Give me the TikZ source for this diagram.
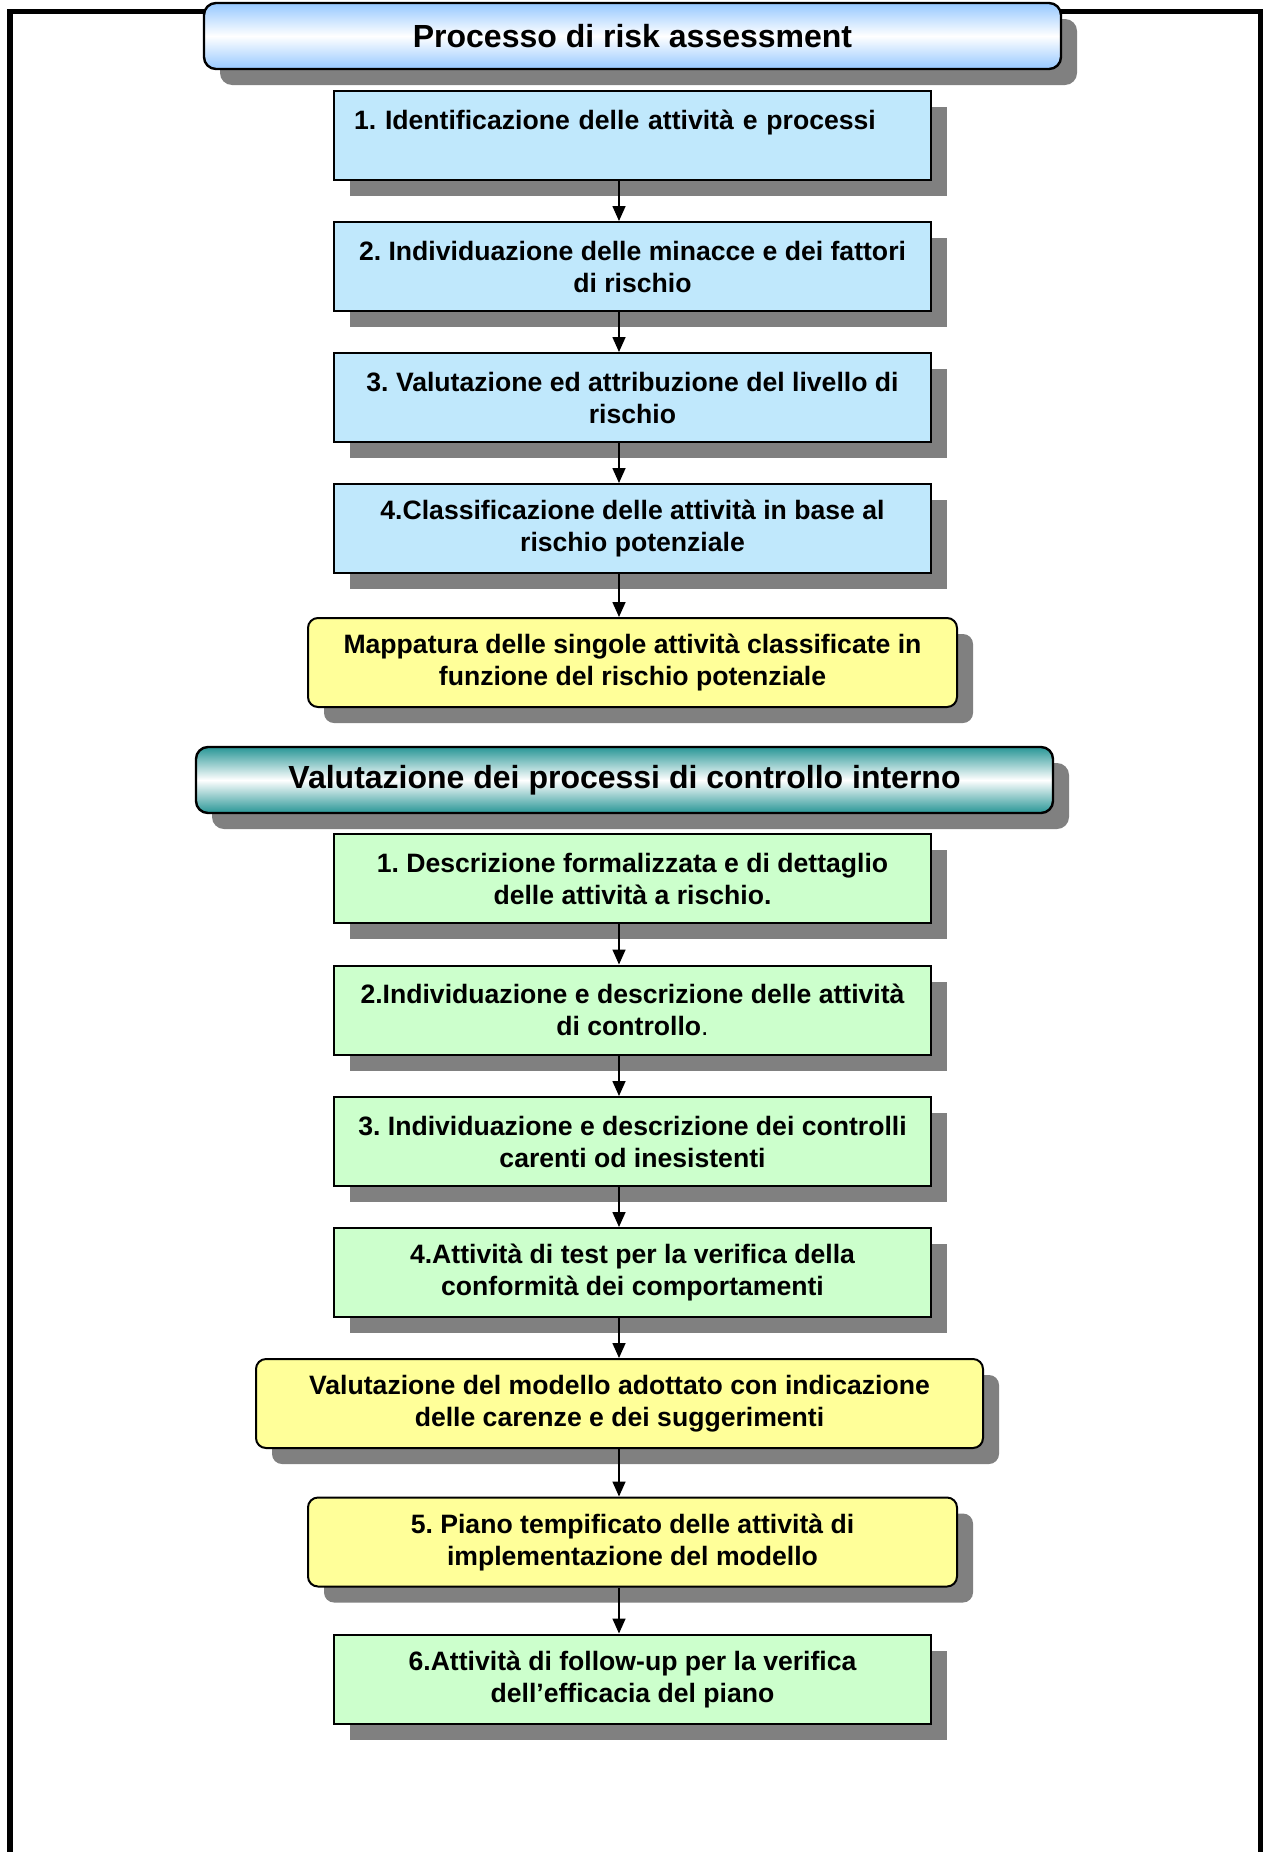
\documentclass[tikz,border=0pt]{standalone}
\usepackage{fontspec}
\setmainfont{Liberation Sans}
\frenchspacing
\usetikzlibrary{shadows,arrows.meta}
\definecolor{boxblue}{RGB}{192,232,252}
\definecolor{boxgreen}{RGB}{204,255,204}
\definecolor{boxyellow}{RGB}{255,255,153}
\definecolor{hblue}{RGB}{150,200,255}
\definecolor{hteal}{RGB}{40,150,150}
\definecolor{shadowgray}{RGB}{128,128,128}
\tikzset{
  shd/.style={drop shadow={shadow xshift=8pt, shadow yshift=-8pt, fill=shadowgray, opacity=1}},
  basebox/.style={shd, draw=black, line width=1pt, inner sep=0pt, align=center,
    font=\fontsize{13.3pt}{16pt}\selectfont\bfseries,
    minimum width=298.5pt, minimum height=44.5pt},
  bluebox/.style={basebox, fill=boxblue},
  greenbox/.style={basebox, fill=boxgreen},
  yellowbox/.style={basebox, fill=boxyellow, rounded corners=5pt},
  headbox/.style={shd, draw=black, line width=1.2pt, rounded corners=6pt, inner sep=0pt,
    minimum width=428.5pt, minimum height=33pt,
    font=\fontsize{16pt}{19pt}\selectfont\bfseries},
  conn/.style={line width=0.8pt, -{Triangle[length=7.5pt,width=6.5pt]}}
}
\begin{document}
\begin{tikzpicture}[x=0.5pt,y=-0.5pt]
\useasboundingbox (0,0) rectangle (1263,1852);
% outer frame (open at the bottom)
\coordinate (fbl) at (10,1852);
\coordinate (ftl) at (10,11.5);
\coordinate (ftr) at (1260.5,11.5);
\coordinate (fbr) at (1260.5,1852);
\draw[line width=2.6pt, line join=miter] (fbl) -- (ftl) -- (ftr) -- (fbr);
\coordinate (ax) at (619,0);

% first section
\node[headbox, top color=hblue, bottom color=hblue, middle color=white] (h1) at (632.5,36) {Processo di risk assessment};
\node[bluebox, align=left, text width=278.5pt, minimum width=0pt, inner xsep=10pt] (b1) at (632.5,135.5) {1. Identificazione delle attività e processi\\\mbox{}};
\node[bluebox] (b2) at (632.5,266.5) {2. Individuazione delle minacce e dei fattori\\di rischio};
\node[bluebox] (b3) at (632.5,397.5) {3. Valutazione ed attribuzione del livello di\\rischio};
\node[bluebox] (b4) at (632.5,528.5) {4.Classificazione delle attività in base al\\rischio potenziale};
\node[yellowbox, minimum width=324.5pt] (m) at (632.5,662.5) {Mappatura delle singole attività classificate in\\funzione del rischio potenziale};

% second section
\node[headbox, top color=hteal, bottom color=hteal, middle color=white] (h2) at (624.5,780) {Valutazione dei processi di controllo interno};
\node[greenbox] (g1) at (632.5,878.5) {1. Descrizione formalizzata e di dettaglio\\delle attività a rischio.};
\node[greenbox] (g2) at (632.5,1010) {2.Individuazione e descrizione delle attività\\di controllo{\mdseries .}};
\node[greenbox] (g3) at (632.5,1141.5) {3. Individuazione e descrizione dei controlli\\carenti od inesistenti};
\node[greenbox] (g4) at (632.5,1272.5) {4.Attività di test per la verifica della\\conformità dei comportamenti};
\node[yellowbox, minimum width=363.5pt] (v) at (619.5,1403.5) {Valutazione del modello adottato con indicazione\\delle carenze e dei suggerimenti};
\node[yellowbox, minimum width=324.5pt] (y5) at (632.5,1542) {5. Piano tempificato delle attività di\\implementazione del modello};
\node[greenbox] (g6) at (632.5,1679) {6.Attività di follow-up per la verifica\\dell’efficacia del piano};

% connectors
\foreach \a/\b in {b1/b2,b2/b3,b3/b4,b4/m,g1/g2,g2/g3,g3/g4,g4/v,v/y5,y5/g6}
  \draw[conn] (\a.south -| ax) -- (\b.north -| ax);
\end{tikzpicture}
\end{document}
